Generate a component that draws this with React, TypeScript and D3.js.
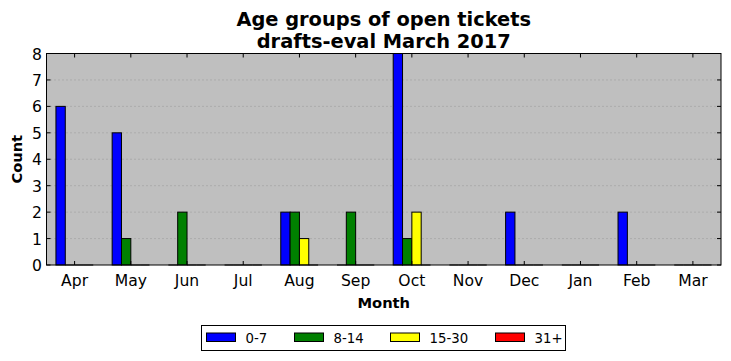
import React from "react";
import * as d3 from "d3";

const months = ["Apr", "May", "Jun", "Jul", "Aug", "Sep", "Oct", "Nov", "Dec", "Jan", "Feb", "Mar"];
const seriesNames = ["0-7", "8-14", "15-30", "31+"];
const seriesColors = ["#0000ff", "#008000", "#ffff00", "#ff0000"];
const age0to7 = [6, 5, 0, 0, 2, 0, 8, 0, 2, 0, 2, 0];
const age8to14 = [0, 1, 2, 0, 2, 2, 1, 0, 0, 0, 0, 0];
const age15to30 = [0, 0, 0, 0, 1, 0, 2, 0, 0, 0, 0, 0];
const age31plus = [0, 0, 0, 0, 0, 0, 0, 0, 0, 0, 0, 0];
const yTicks = [0, 1, 2, 3, 4, 5, 6, 7, 8];

const series = [age0to7, age8to14, age15to30, age31plus];

export default function App() {
  const W = 731, H = 361;
  const left = 46.5, right = 721, top = 53.5, bottom = 265;
  const x = d3.scaleLinear().domain([-0.5, 11.5]).range([left, right]);
  const y = d3.scaleLinear().domain([0, 8]).range([bottom, top]);
  const bw = 0.166;
  const font = "DejaVu Sans, sans-serif";
  return (
    <svg width={W} height={H} style={{ position: "absolute", left: 0, top: 0 }} fontFamily={font}>
      <rect x={0} y={0} width={W} height={H} fill="#ffffff" />
      <rect x={left} y={top} width={right - left} height={bottom - top} fill="#bfbfbf" />
      {yTicks.filter(t => t > 0 && t < 8).map(t => (
        <line key={"g" + t} x1={left} x2={right} y1={y(t)} y2={y(t)} stroke="#808080" strokeWidth={0.6} strokeDasharray="1,3" />
      ))}
      {series.map((vals, s) =>
        vals.map((v, i) => {
          const x0 = x(i + (s - 2) * bw);
          const x1 = x(i + (s - 1) * bw);
          if (v === 0) {
            return <line key={s + "-" + i} x1={x0} x2={x1} y1={y(0)} y2={y(0)} stroke="#000" strokeWidth={1} />;
          }
          return (
            <rect key={s + "-" + i} x={x0} y={y(v)} width={x1 - x0} height={y(0) - y(v)} fill={seriesColors[s]} stroke="#000" strokeWidth={1} />
          );
        })
      )}
      {months.map((m, i) => (
        <g key={m}>
          <line x1={x(i)} x2={x(i)} y1={bottom} y2={bottom - 4} stroke="#000" />
          <line x1={x(i)} x2={x(i)} y1={top} y2={top + 4} stroke="#000" />
          <text x={x(i)} y={286} textAnchor="middle" fontSize={15.6}>{m}</text>
        </g>
      ))}
      {yTicks.map(t => (
        <g key={"y" + t}>
          <line x1={left} x2={left + 4} y1={y(t)} y2={y(t)} stroke="#000" />
          <line x1={right} x2={right - 4} y1={y(t)} y2={y(t)} stroke="#000" />
          <text x={left - 4.5} y={y(t) + 6} textAnchor="end" fontSize={15.6}>{t}</text>
        </g>
      ))}
      <rect x={left} y={top} width={right - left} height={bottom - top} fill="none" stroke="#000" strokeWidth={1} />
      <text x={(left + right) / 2} y={307.5} textAnchor="middle" fontSize={14.7} fontWeight="bold">Month</text>
      <text transform={`translate(21.5,${(top + bottom) / 2}) rotate(-90)`} textAnchor="middle" fontSize={14.6} fontWeight="bold">Count</text>
      <text x={(left + right) / 2} y={26} textAnchor="middle" fontSize={19.4} fontWeight="bold">Age groups of open tickets</text>
      <text x={(left + right) / 2} y={47.5} textAnchor="middle" fontSize={19.4} fontWeight="bold">drafts-eval March 2017</text>
      <rect x={201.5} y={325.5} width={364} height={25} fill="#fff" stroke="#000" strokeWidth={1} />
      {seriesNames.map((n, s) => {
        const px = [206.5, 294.5, 390.5, 495.5][s];
        return (
          <g key={n}>
            <rect x={px} y={333} width={29} height={8.5} fill={seriesColors[s]} stroke="#000" strokeWidth={1} />
            <text x={px + 39} y={342.5} fontSize={13.3}>{n}</text>
          </g>
        );
      })}
    </svg>
  );
}
